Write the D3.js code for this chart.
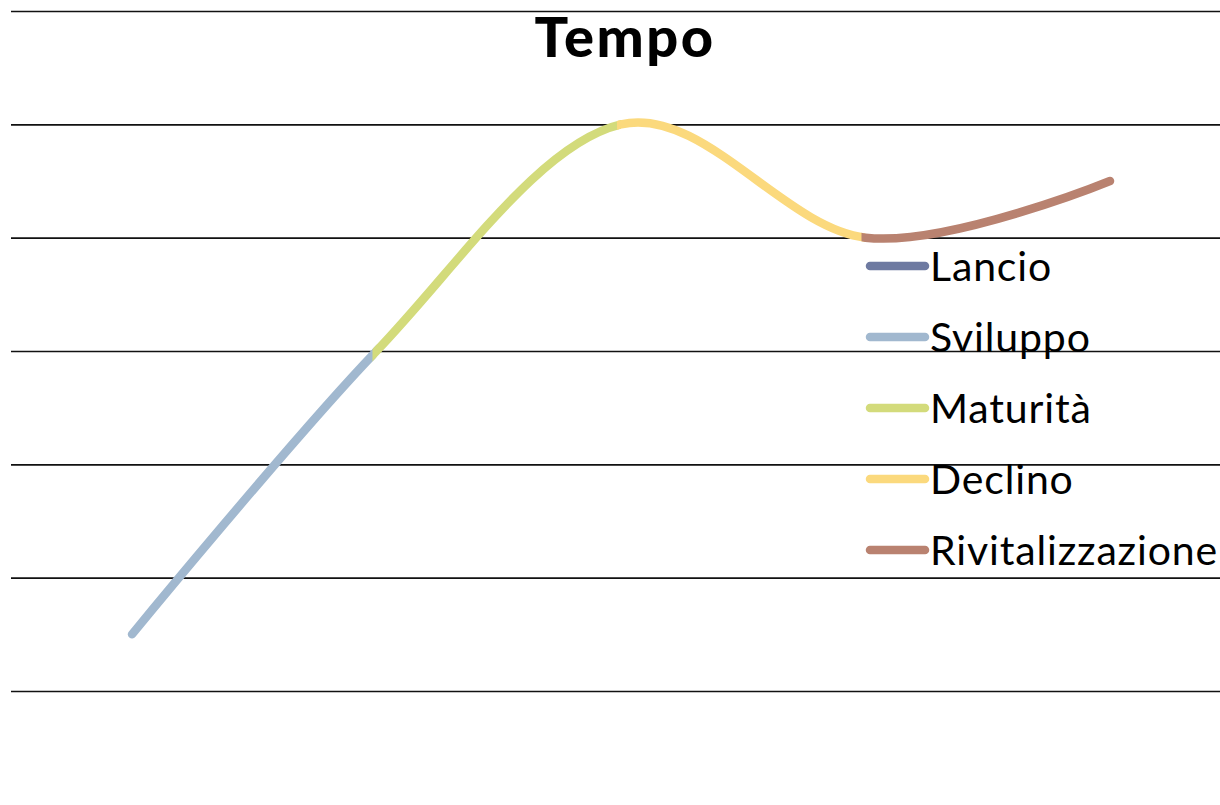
<!DOCTYPE html>
<html>
<head>
<meta charset="utf-8">
<script src="https://cdn.jsdelivr.net/npm/d3@7"></script>
<style>
  body { margin: 0; background: #fff; }
  svg { display: block; }
</style>
</head>
<body>
<script>
// categories along x (no labels shown in the chart)
var categories = ["1", "2", "3", "4", "5"];

// series values, null where the phase is not drawn
var seriesNames = ["Lancio", "Sviluppo", "Maturità", "Declino", "Rivitalizzazione"];
var lancio = [null, null, null, null, null];
var sviluppo = [0.5, 3, null, null, null];
var maturita = [null, 3, 5, null, null];
var declino = [null, null, 5, 4, null];
var rivitalizzazione = [null, null, null, 4, 4.5];
var seriesValues = [lancio, sviluppo, maturita, declino, rivitalizzazione];
var seriesColors = ["#6e7aa1", "#a1b8cf", "#d3db7b", "#fbd97d", "#b98270"];

var yTicks = [0, 1, 2, 3, 4, 5, 6];

var width = 1220;
var height = 805;

var svg = d3.select("body")
	.append("svg")
	.attr("width", width)
	.attr("height", height);

var x = d3.scalePoint()
	.domain(categories)
	.range([132, 1110]);

var y = d3.scaleLinear()
	.domain([0, 6])
	.range([691, 11]);

//horizontal gridlines
var yAxis = d3.axisLeft(y)
	.tickValues(yTicks)
	.tickSize(-(width - 11))
	.tickFormat("");

svg.append("g")
	.attr("transform", "translate(11, 0)")
	.call(yAxis)
	.call(function(g) { g.select(".domain").remove(); })
	.selectAll("line")
	.attr("stroke", "#111")
	.attr("stroke-width", 1.6);

//merge all phases into one profile so the curve stays smooth
var profile = categories.map(function(c, i) {
	var v = null;
	seriesValues.forEach(function(s) { if (s[i] != null) v = s[i]; });
	return { cat: c, value: v };
}).filter(function(d) { return d.value != null; });

var line = d3.line()
	.x(function(d) { return x(d.cat); })
	.y(function(d) { return y(d.value); })
	.curve(d3.curveCardinal.tension(0));

var sw = 8.5;
var defs = svg.append("defs");

seriesValues.forEach(function(vals, k) {
	var idx = [];
	vals.forEach(function(v, i) { if (v != null) idx.push(i); });
	if (idx.length < 2) return;
	var x0 = x(categories[idx[0]]) - (k > 1 ? 4 : sw);
	var x1 = x(categories[idx[idx.length - 1]]) + (idx[idx.length - 1] == categories.length - 1 ? sw : 0);

	defs.append("clipPath")
		.attr("id", "clip" + k)
		.append("rect")
		.attr("x", x0)
		.attr("y", 0)
		.attr("width", x1 - x0)
		.attr("height", height);

	svg.append("path")
		.datum(profile)
		.attr("d", line)
		.attr("clip-path", "url(#clip" + k + ")")
		.attr("fill", "none")
		.attr("stroke", seriesColors[k])
		.attr("stroke-width", sw)
		.attr("stroke-linecap", "round")
		.attr("stroke-linejoin", "round");
});

//title
svg.append("text")
	.attr("x", 625)
	.attr("y", 57)
	.attr("text-anchor", "middle")
	.style("font-family", "Lato, 'Open Sans', sans-serif")
	.style("font-weight", "900")
	.style("font-size", "56px")
	.style("letter-spacing", "2.5px")
	.text("Tempo");

//legend
var legend = svg.selectAll(".legend")
	.data(seriesNames)
	.enter()
	.append("g")
	.attr("class", "legend")
	.attr("transform", function(d, i) { return "translate(868, " + (266 + i * 71) + ")"; });

legend.append("line")
	.attr("x1", 2)
	.attr("x2", 57)
	.attr("stroke", function(d, i) { return seriesColors[i]; })
	.attr("stroke-width", 8.5)
	.attr("stroke-linecap", "round");

legend.append("text")
	.attr("x", 62)
	.attr("y", 15)
	.style("font-family", "Lato, 'Open Sans', sans-serif")
	.style("font-size", "41px")
	.style("letter-spacing", "0.85px")
	.text(function(d) { return d; });
</script>
</body>
</html>
